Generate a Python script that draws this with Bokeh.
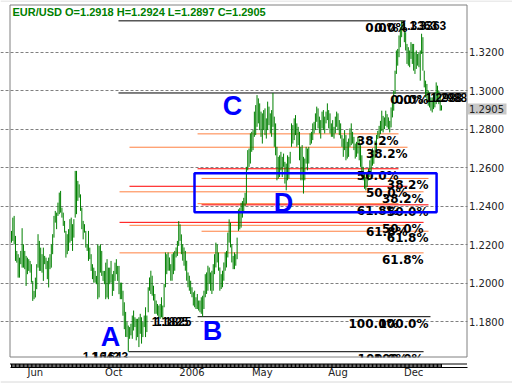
from bokeh.plotting import figure
from bokeh.models import Range1d, FixedTicker, NumeralTickFormatter
from bokeh.embed import file_html
from bokeh.resources import INLINE
from bokeh.core.properties import value

# ---------------- data (daily EUR/USD bars) ----------------
HIGH = [
    1.2271, 1.2340, 1.2349, 1.2245, 1.2167, 1.2150, 1.2132, 1.2167, 1.2285, 1.2201,
    1.2167, 1.2141, 1.2132, 1.2124, 1.2115, 1.2098, 1.2011, 1.1959, 1.2028, 1.2098,
    1.2254, 1.2219, 1.2184, 1.2150, 1.2184, 1.2141, 1.2132, 1.2115, 1.2132, 1.2150,
    1.2201, 1.2254, 1.2349, 1.2375, 1.2366, 1.2418, 1.2470, 1.2479, 1.2392, 1.2366,
    1.2323, 1.2271, 1.2254, 1.2280, 1.2332, 1.2340, 1.2306, 1.2332, 1.2583, 1.2583,
    1.2531, 1.2513, 1.2461, 1.2392, 1.2323, 1.2306, 1.2271, 1.2201, 1.2271, 1.2184,
    1.2150, 1.2098, 1.2080, 1.2063, 1.2037, 1.2201, 1.2193, 1.2201, 1.2167, 1.2063,
    1.2063, 1.2106, 1.2124, 1.2080, 1.2080, 1.2115, 1.2046, 1.2063, 1.2106, 1.2124,
    1.2089, 1.2089, 1.2002, 1.2002, 1.1960, 1.1900, 1.1850,
    1.1797, 1.1779, 1.1771, 1.1788, 1.1831, 1.1857, 1.1822, 1.1814, 1.1814, 1.1822,
    1.1840, 1.1822, 1.1797, 1.1831, 1.1874, 1.1831, 1.1978, 1.2029, 1.2064, 1.2038,
    1.1986, 1.1943, 1.1909, 1.1891, 1.1883, 1.1891, 1.1926, 1.1883, 1.1995, 1.2159,
    1.2150, 1.2159, 1.2133, 1.2098, 1.2150, 1.2159, 1.2167, 1.2185, 1.2219, 1.2322,
    1.2305, 1.2253, 1.2202, 1.2185, 1.2167, 1.2116, 1.2055, 1.2038, 1.2012, 1.1978,
    1.1952, 1.1960, 1.1926, 1.1943, 1.1909, 1.1909, 1.1926, 1.1934, 1.1960, 1.2046,
    1.2055, 1.2090, 1.2081, 1.2055, 1.2064, 1.2098, 1.2150, 1.2210, 1.2202, 1.2159,
    1.2081, 1.2046, 1.2064, 1.2107, 1.2159, 1.2167, 1.2262, 1.2331, 1.2314, 1.2202,
    1.2141, 1.2159, 1.2150, 1.2236, 1.2383, 1.2391, 1.2417, 1.2426, 1.2443, 1.2469,
    1.2604,
    1.2691, 1.2699, 1.2778, 1.2786, 1.2795, 1.2891, 1.2925, 1.2977, 1.2960, 1.2934,
    1.2891, 1.2882, 1.2899, 1.2908, 1.2856, 1.2943, 1.2917, 1.2882, 1.2899, 1.2988,
    1.2865, 1.2830, 1.2708, 1.2656, 1.2664, 1.2682, 1.2656, 1.2673, 1.2630, 1.2621,
    1.2664, 1.2656, 1.2682, 1.2830, 1.2821, 1.2856, 1.2873, 1.2830, 1.2812, 1.2786,
    1.2708, 1.2717, 1.2656, 1.2647, 1.2708, 1.2699, 1.2708, 1.2778, 1.2786, 1.2830,
    1.2838, 1.2882, 1.2917, 1.2908, 1.2865, 1.2847, 1.2891, 1.2899, 1.2865, 1.2891,
    1.2934, 1.2899, 1.2882, 1.2830, 1.2847, 1.2812, 1.2865, 1.2891, 1.2882, 1.2847,
    1.2830, 1.2769, 1.2751, 1.2795, 1.2769, 1.2734, 1.2751, 1.2804, 1.2830, 1.2786,
    1.2760, 1.2725, 1.2734, 1.2760, 1.2751, 1.2717, 1.2664, 1.2604, 1.2569, 1.2551,
    1.2569, 1.2595, 1.2638,
    1.2660, 1.2700, 1.2690, 1.2740, 1.2770,
    1.2791, 1.2817, 1.2843, 1.2896, 1.2869, 1.2861, 1.2896, 1.2878, 1.2861, 1.2843,
    1.2913, 1.2948, 1.3000, 1.3104, 1.3209, 1.3217, 1.3287, 1.3330, 1.3363, 1.3360,
    1.3348, 1.3304, 1.3243, 1.3226, 1.3209, 1.3252, 1.3243, 1.3243, 1.3200, 1.3209,
    1.3191, 1.3200, 1.3209, 1.3296, 1.3278, 1.3104, 1.3052, 1.3035, 1.3000, 1.2991,
    1.2965, 1.2965, 1.2983, 1.2991, 1.3043, 1.3026, 1.3000, 1.2983, 1.2924,
]
LOW = [
    1.2210, 1.2219, 1.2201, 1.2115, 1.2106, 1.2028, 1.2028, 1.2098, 1.2080, 1.2080,
    1.2072, 1.1985, 1.2046, 1.2063, 1.2054, 1.2002, 1.1907, 1.1916, 1.1925, 1.1968,
    1.2080, 1.2063, 1.2063, 1.2054, 1.2011, 1.2098, 1.2072, 1.2020, 1.1977, 1.2072,
    1.2080, 1.2150, 1.2236, 1.2314, 1.2280, 1.2349, 1.2358, 1.2366, 1.2340, 1.2297,
    1.2262, 1.2132, 1.2150, 1.2167, 1.2210, 1.2219, 1.2167, 1.2236, 1.2340, 1.2358,
    1.2427, 1.2444, 1.2375, 1.2280, 1.2227, 1.2262, 1.2184, 1.2167, 1.2115, 1.2124,
    1.2063, 1.2020, 1.2002, 1.2002, 1.1994, 1.1916, 1.1925, 1.2054, 1.2037, 1.2011,
    1.1994, 1.1916, 1.1925, 1.1916, 1.1994, 1.2002, 1.1933, 1.1959, 1.2011, 1.2046,
    1.2011, 1.1942, 1.1916, 1.1916, 1.1830, 1.1760, 1.1720,
    1.1719, 1.1643, 1.1710, 1.1728, 1.1710, 1.1753, 1.1771, 1.1702, 1.1719, 1.1667,
    1.1736, 1.1685, 1.1719, 1.1771, 1.1719, 1.1745, 1.1848, 1.1960, 1.1943, 1.1934,
    1.1909, 1.1840, 1.1840, 1.1831, 1.1822, 1.1814, 1.1822, 1.1814, 1.1874, 1.1978,
    1.2046, 1.2064, 1.2064, 1.2012, 1.2012, 1.2046, 1.2064, 1.2133, 1.2141, 1.2193,
    1.2219, 1.2150, 1.2116, 1.2090, 1.2064, 1.2012, 1.1978, 1.1960, 1.1943, 1.1926,
    1.1883, 1.1874, 1.1865, 1.1865, 1.1857, 1.1848, 1.1840, 1.1825, 1.1865, 1.1926,
    1.1943, 1.1960, 1.1995, 1.1960, 1.1943, 1.1960, 1.2046, 1.2081, 1.2107, 1.2064,
    1.1960, 1.1969, 1.1978, 1.2012, 1.2064, 1.2081, 1.2133, 1.2210, 1.2185, 1.2107,
    1.2072, 1.2072, 1.2090, 1.2124, 1.2271, 1.2279, 1.2288, 1.2340, 1.2374, 1.2400,
    1.2412,
    1.2586, 1.2604, 1.2621, 1.2682, 1.2691, 1.2760, 1.2769, 1.2812, 1.2830, 1.2795,
    1.2760, 1.2725, 1.2795, 1.2769, 1.2751, 1.2795, 1.2821, 1.2778, 1.2760, 1.2812,
    1.2708, 1.2664, 1.2534, 1.2543, 1.2551, 1.2586, 1.2551, 1.2604, 1.2517, 1.2482,
    1.2534, 1.2543, 1.2621, 1.2708, 1.2725, 1.2743, 1.2769, 1.2708, 1.2717, 1.2638,
    1.2534, 1.2534, 1.2465, 1.2534, 1.2621, 1.2586, 1.2621, 1.2717, 1.2725, 1.2743,
    1.2778, 1.2795, 1.2838, 1.2804, 1.2778, 1.2751, 1.2804, 1.2795, 1.2778, 1.2830,
    1.2847, 1.2804, 1.2778, 1.2760, 1.2760, 1.2751, 1.2778, 1.2812, 1.2795, 1.2769,
    1.2751, 1.2708, 1.2656, 1.2691, 1.2638, 1.2647, 1.2656, 1.2708, 1.2717, 1.2725,
    1.2691, 1.2647, 1.2656, 1.2673, 1.2638, 1.2604, 1.2551, 1.2534, 1.2490, 1.2482,
    1.2499, 1.2534, 1.2551,
    1.2580, 1.2610, 1.2620, 1.2650, 1.2690,
    1.2748, 1.2757, 1.2774, 1.2791, 1.2783, 1.2800, 1.2817, 1.2809, 1.2800, 1.2783,
    1.2809, 1.2861, 1.2896, 1.2983, 1.3087, 1.3130, 1.3174, 1.3226, 1.3278, 1.3313,
    1.3252, 1.3209, 1.3139, 1.3130, 1.3122, 1.3165, 1.3139, 1.3104, 1.3087, 1.3113,
    1.3130, 1.3122, 1.3052, 1.3191, 1.3104, 1.3017, 1.2965, 1.2948, 1.2922, 1.2913,
    1.2896, 1.2887, 1.2904, 1.2913, 1.2930, 1.2948, 1.2930, 1.2896, 1.2897,
]
assert len(HIGH) == len(LOW)

SYMBOL = "EUR/USD"
LAST_O, LAST_H, LAST_L, LAST_C = 1.2918, 1.2924, 1.2897, 1.2905

X_TICKS = [18, 77, 136, 189, 246, 303]
X_LABELS = ["Jun", "Oct", "2006", "May", "Aug", "Dec"]
Y_TICKS = [1.18, 1.20, 1.22, 1.24, 1.26, 1.28, 1.30, 1.32]

# Fibonacci retracement sets: A->C, A->Top, B->Top, B->C (bar indices for extents)
SET_LOW = [1.1643, 1.1643, 1.1825, 1.1825]
SET_HIGH = [1.2988, 1.3363, 1.3363, 1.2988]
SET_START = [81.4, 88.9, 140.2, 143.2]
SET_END = [310.5, 298.4, 291.6, 314.2]
SET_LOWTEXT_X = [81.4, 88.0, 133.4, 135.6]
RATIOS = [0.382, 0.5, 0.618]
RATIO_TEXT = ["38.2%", "50.0%", "61.8%"]
RATIO_COLOR = ["#ff8040", "#ff0000", "#ff8040"]

# black 0% / 100% lines
BLACK_LEVEL = [1.3363, 1.2988, 1.1825, 1.1643]
BLACK_FROM = [80.6, 80.6, 140.2, 88.2]
BLACK_TO = [296.9, 342.9, 315.7, 310.5]

# blue zone D and wave letters
BOX_LEFT, BOX_RIGHT, BOX_BOTTOM, BOX_TOP = 137.9, 320.3, 1.2368, 1.2571
LETTERS = ["A", "B", "C", "D"]
LETTER_X = [74.6, 151.5, 166.5, 205.0]
LETTER_Y = [1.1718, 1.1750, 1.2919, 1.2415]

# ---------------- page geometry (pixels -> data) ----------------
W, H = 512, 383
PX_PER_BAR = 430.0 / 324.0
PX_PER_UNIT = 1923.6


def dx(px):
    return (px - 11.0) / PX_PER_BAR


def dy(py):
    return 1.32 - (py - 51.7) / PX_PER_UNIT


FR_L, FR_R, FR_T, FR_B = 9.5, 466.5, 4.5, 356.5     # chart frame
STRIP_T, STRIP_B = 363.5, 366.5                       # time strip

GREEN = "#008000"
idx = list(range(len(HIGH)))

p = figure(width=W, height=H, x_range=Range1d(dx(0), dx(W)), y_range=Range1d(dy(H), dy(0)),
           output_backend="svg", toolbar_location=None, y_axis_location="right",
           x_axis_location="below", min_border=0, min_border_left=0, min_border_right=0,
           min_border_top=0, min_border_bottom=0)
p.outline_line_color = None
p.background_fill_color = "white"
p.border_fill_color = "white"

# grid
p.xgrid.visible = False
p.ygrid.ticker = FixedTicker(ticks=Y_TICKS)
p.ygrid.grid_line_color = "#808080"
p.ygrid.grid_line_dash = "3 2"
p.ygrid.bounds = (dx(FR_L), dx(FR_R))

# price scale (right)
ya = p.yaxis[0]
ya.fixed_location = dx(FR_R)
ya.ticker = FixedTicker(ticks=Y_TICKS)
ya.formatter = NumeralTickFormatter(format="0.0000")
ya.axis_line_color = None
ya.major_tick_line_color = None
ya.minor_tick_line_color = None
ya.major_tick_in = 0
ya.major_tick_out = 0
ya.major_label_standoff = 2
ya.major_label_text_font = "DejaVu Sans"
ya.major_label_text_font_size = "10px"
ya.major_label_text_color = "#222222"

# time scale (bottom)
xa = p.xaxis[0]
xa.fixed_location = dy(STRIP_B)
xa.bounds = (dx(FR_L), dx(FR_R))
xa.ticker = FixedTicker(ticks=X_TICKS)
xa.major_label_overrides = {t: l for t, l in zip(X_TICKS, X_LABELS)}
xa.axis_line_color = "black"
xa.major_tick_line_color = None
xa.minor_tick_line_color = None
xa.major_tick_in = 0
xa.major_tick_out = 0
xa.major_label_standoff = 0
xa.major_label_text_font = "DejaVu Sans"
xa.major_label_text_font_size = "10px"
xa.major_label_text_color = "#222222"

# fib ratio lines + labels
fx0, fx1, fy, fc, lx, ly, lt = [], [], [], [], [], [], []
for i in range(len(SET_LOW)):
    rng = SET_HIGH[i] - SET_LOW[i]
    for j, r in enumerate(RATIOS):
        lvl = SET_HIGH[i] - r * rng
        fx0.append(SET_START[i]); fx1.append(SET_END[i]); fy.append(lvl); fc.append(RATIO_COLOR[j])
        lx.append(SET_END[i]); ly.append(lvl); lt.append(RATIO_TEXT[j])
    lx.append(SET_END[i]); ly.append(SET_HIGH[i]); lt.append("0.0%")
    lx.append(SET_END[i]); ly.append(SET_LOW[i]); lt.append("100.0%")
p.segment(x0=fx0, y0=fy, x1=fx1, y1=fy, line_color=fc, line_width=1)
p.segment(x0=BLACK_FROM, y0=BLACK_LEVEL, x1=BLACK_TO, y1=BLACK_LEVEL, line_color="black", line_width=1)

# price bars
p.segment(x0=idx, y0=LOW, x1=idx, y1=HIGH, line_color=GREEN, line_width=1)

p.text(x=lx, y=ly, text=lt, text_font=value("DejaVu Sans"), text_font_style="bold",
       text_font_size="12px", text_align="right", text_baseline="top", text_color="black")
p.text(x=SET_END, y=SET_HIGH, text=[f"{v:.4f}" for v in SET_HIGH], text_font=value("Liberation Sans"),
       text_font_style="bold", text_font_size="12px", text_align="left", text_baseline="top",
       text_color="black", x_offset=2)
p.text(x=SET_LOWTEXT_X, y=SET_LOW, text=[f"{v:.4f}" for v in SET_LOW], text_font=value("Liberation Sans"),
       text_font_style="bold", text_font_size="12px", text_align="right", text_baseline="top",
       text_color="black")

# blue zone + wave letters
p.quad(left=[BOX_LEFT], right=[BOX_RIGHT], bottom=[BOX_BOTTOM], top=[BOX_TOP],
       fill_alpha=0, line_color="#0000ff", line_width=2.5)
p.text(x=LETTER_X, y=LETTER_Y, text=LETTERS, text_font=value("Liberation Sans"), text_font_style="bold",
       text_font_size="27px", text_align="center", text_baseline="middle", text_color="#0000ff")

# masks so that nothing of the chart spills outside its frame
p.quad(left=[dx(FR_R + 0.5), dx(FR_L)], right=[dx(W), dx(FR_R + 0.5)],
       top=[dy(0), dy(FR_B + 0.5)], bottom=[dy(H), dy(STRIP_T - 1)],
       fill_color="white", line_color=None)

# frame border
p.segment(x0=[dx(FR_L), dx(FR_R), dx(FR_L), dx(FR_L)], y0=[dy(FR_T), dy(FR_T), dy(FR_T), dy(FR_B)],
          x1=[dx(FR_L), dx(FR_R), dx(FR_R), dx(FR_R)], y1=[dy(FR_B), dy(FR_B), dy(FR_T), dy(FR_B)],
          line_color="#808080", line_width=1)
# page edges
p.segment(x0=[dx(0), dx(0)], y0=[dy(0.5), dy(H - 1.5)], x1=[dx(W), dx(W)], y1=[dy(0.5), dy(H - 1.5)],
          line_color="#d8d8d8", line_width=1)

# time strip: one tick per bar
p.segment(x0=idx, y0=[dy(STRIP_T)] * len(idx), x1=idx, y1=[dy(STRIP_B)] * len(idx),
          line_color="black", line_width=1)
p.segment(x0=[dx(FR_L)], y0=[dy(STRIP_T)], x1=[dx(FR_R)], y1=[dy(STRIP_T)], line_color="black", line_width=1)

# title
title = f"{SYMBOL} O={LAST_O:.4f} H={LAST_H:.4f} L={LAST_L:.4f} C={LAST_C:.4f}"
p.text(x=[dx(12)], y=[dy(5)], text=[title], text_font=value("Liberation Sans"), text_font_style="bold",
       text_font_size="11px", text_align="left", text_baseline="top", text_color=GREEN)

# last price marker on the price scale
p.quad(left=[dx(467.5)], right=[dx(506)], top=[LAST_C + 5.5 / PX_PER_UNIT], bottom=[LAST_C - 5.5 / PX_PER_UNIT],
       fill_color="#c8c8c8", line_color=None)
p.text(x=[dx(FR_R + 2)], y=[LAST_C], text=[f"{LAST_C:.4f}"], text_font=value("DejaVu Sans"),
       text_font_size="10px", text_align="left", text_baseline="middle", text_color="#222222")

open("out.html", "w").write(file_html(p, INLINE))
